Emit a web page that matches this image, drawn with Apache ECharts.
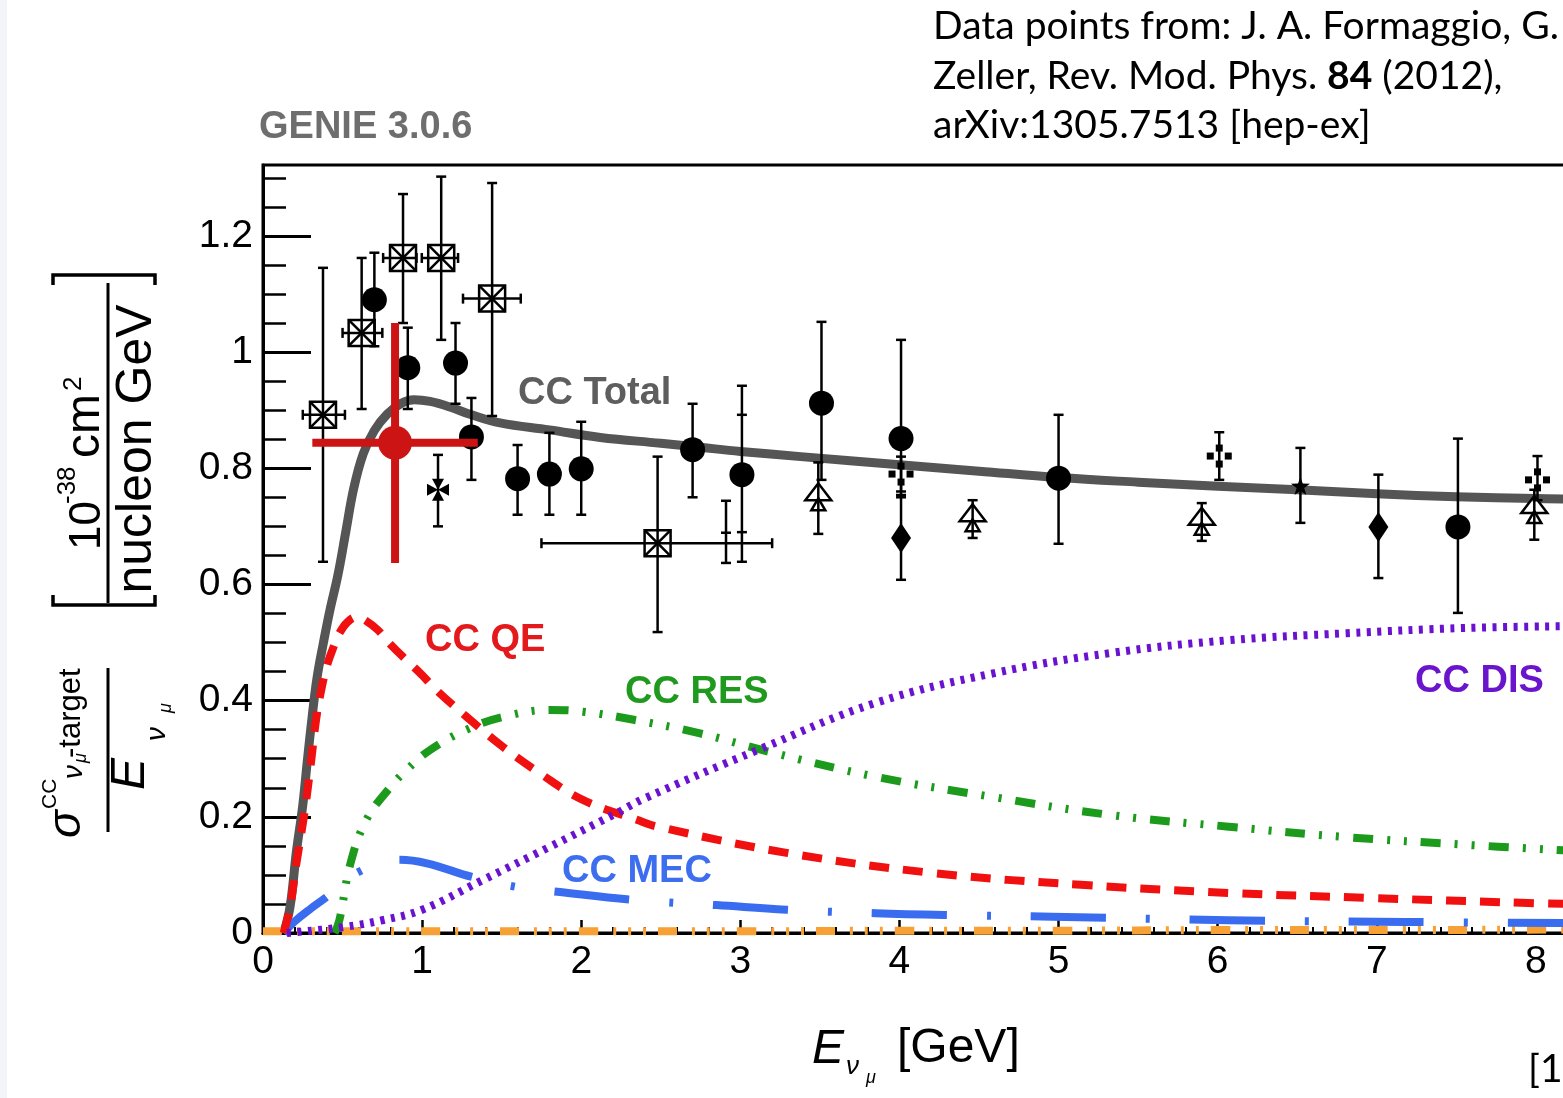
<!DOCTYPE html>
<html>
<head>
<meta charset="utf-8">
<script src="https://cdn.jsdelivr.net/npm/echarts@6/dist/echarts.min.js"></script>
<style>
html,body{margin:0;padding:0;background:#fff;}
#chart{width:1563px;height:1098px;}
</style>
</head>
<body>
<div id="chart"></div>
<script>
// GENIE 3.0.6 numu CC cross section divided by energy, split by interaction channel
const totalCurve = [[0.13,0],[0.17,0.045],[0.21,0.14],[0.25,0.22],[0.28,0.3],[0.31,0.375],[0.34,0.44],[0.38,0.5],[0.42,0.555],[0.47,0.615],[0.52,0.69],[0.57,0.765],[0.63,0.825],[0.7,0.865],[0.78,0.893],[0.87,0.912],[0.95,0.918],[1.05,0.915],[1.18,0.905],[1.3,0.893],[1.49,0.878],[1.8,0.866],[2.12,0.853],[2.5,0.843],[2.75,0.836],[3.0,0.829],[3.38,0.82],[4.0,0.806],[4.5,0.795],[5.0,0.784],[5.5,0.776],[6.0,0.769],[6.5,0.763],[7.0,0.756],[7.5,0.751],[8.0,0.748],[8.2,0.747]];
const qeCurve = [[0.13,0],[0.17,0.045],[0.21,0.12],[0.26,0.206],[0.3,0.29],[0.33,0.36],[0.36,0.41],[0.4,0.458],[0.44,0.49],[0.48,0.516],[0.53,0.535],[0.59,0.544],[0.65,0.537],[0.72,0.522],[0.8,0.497],[0.9,0.47],[1.0,0.444],[1.09,0.418],[1.28,0.372],[1.51,0.32],[1.74,0.275],[2.01,0.229],[2.35,0.195],[2.48,0.183],[3.29,0.138],[4.22,0.103],[5.14,0.083],[6.07,0.069],[6.99,0.06],[7.91,0.052],[8.2,0.05]];
const resCurve = [[0.45,0],[0.48,0.022],[0.55,0.12],[0.65,0.195],[0.8,0.251],[0.9,0.28],[1.05,0.315],[1.28,0.35],[1.51,0.372],[1.8,0.384],[2.01,0.381],[2.33,0.367],[2.74,0.344],[3.18,0.312],[3.85,0.269],[4.59,0.234],[5.33,0.203],[6.07,0.183],[6.81,0.165],[7.55,0.152],[8.2,0.142]];
const disCurve = [[0.15,0],[0.23,0.002],[0.5,0.01],[0.75,0.022],[1.0,0.04],[1.38,0.091],[1.8,0.148],[2.22,0.206],[2.4,0.232],[3.11,0.315],[3.85,0.396],[4.59,0.447],[5.33,0.482],[6.07,0.504],[6.81,0.516],[7.55,0.525],[8.2,0.528]];
const mecCurve = [[0.13,0],[0.2,0.02],[0.3,0.042],[0.4,0.062],[0.6,0.105],[0.86,0.126],[1.03,0.12],[1.32,0.096],[1.6,0.079],[1.85,0.071],[2.33,0.057],[2.85,0.048],[3.29,0.04],[3.85,0.034],[4.29,0.031],[4.96,0.028],[6.07,0.022],[7.18,0.019],[8.2,0.017]];
const otherCurve = [[0,0.003],[1,0.003],[2,0.003],[3,0.003],[4,0.004],[5,0.004],[6,0.005],[7,0.005],[8.2,0.006]];

// measurements: [E, value, low, high] or [E, value, low, high, E low, E high]
const circlePoints = [[0.70,1.09,1.01,1.171],[0.91,0.973,0.902,1.042],[1.21,0.981,0.911,1.05],[1.31,0.854,0.78,0.921],[1.60,0.782,0.72,0.84],[1.80,0.79,0.72,0.861],[2.0,0.799,0.72,0.88],[2.70,0.832,0.75,0.911],[3.01,0.789,0.639,0.942],[3.51,0.912,0.78,1.052],[4.01,0.851,0.75,1.021],[5.0,0.783,0.67,0.892],[7.51,0.699,0.551,0.851]];
const boxPoints = [[0.377,0.892,0.639,1.145,0.25,0.515],[0.62,1.033,0.902,1.162,0.5,0.75],[0.88,1.162,1.05,1.272,0.755,0.965],[1.12,1.162,1.021,1.302,0.998,1.226],[1.44,1.092,0.89,1.291,1.257,1.62],[2.48,0.671,0.518,0.82,1.75,3.2]];
const trianglePoints = [[3.49,0.75,0.687,0.81],[4.46,0.714,0.68,0.745],[5.90,0.708,0.675,0.74],[7.99,0.728,0.677,0.763]];
const diamondPoints = [[4.01,0.68,0.608,0.754],[7.01,0.699,0.611,0.789]];
const squaresPoints = [[4.01,0.79,0.76,0.82],[6.01,0.821,0.78,0.862],[8.01,0.78,0.745,0.821]];
const starPoints = [[6.52,0.768,0.706,0.835]];
const patteePoints = [[1.10,0.763,0.70,0.823]];
const tickPoints = [[2.91,0.689,0.637,0.744]];
const innerErrorPoints = [[3.01,0.69,0.892]];
const highlightPoint = [[0.83,0.844,0.637,1.05,0.31,1.35]];

const yMajorTicks = [0,0.2,0.4,0.6,0.8,1,1.2];
const yMinorTicks = [0.05,0.1,0.15,0.25,0.3,0.35,0.45,0.5,0.55,0.65,0.7,0.75,0.85,0.9,0.95,1.05,1.1,1.15,1.25,1.3];

const FONT = '"Liberation Sans", Arial, Helvetica, sans-serif';
const CITE = 'Lato, "Open Sans", sans-serif';
const BAR = {stroke:'#000', lineWidth:2.5};

function seg(x1,y1,x2,y2,style){ return {type:'line', shape:{x1,y1,x2,y2}, style}; }
function poly(points, style){ return {type:'polygon', shape:{points}, style}; }

const markers = {
  circle: (x,y) => ({back:[], front:[{type:'circle', shape:{cx:x, cy:y, r:12.5}, style:{fill:'#000'}}]}),
  box: (x,y) => ({
    back:[{type:'rect', shape:{x:x-13, y:y-13, width:26, height:26}, style:{fill:'#fff', stroke:'#000', lineWidth:2.5}}],
    front:[seg(x-13,y-13,x+13,y+13,BAR), seg(x-13,y+13,x+13,y-13,BAR)]}),
  triangle: (x,y) => ({
    back:[poly([[x,y-14],[x-13,y+3],[x+13,y+3]], {fill:'#fff', stroke:'#000', lineWidth:2.5}),
          poly([[x,y+1],[x-7,y+13],[x+7,y+13]], {fill:'#fff', stroke:'#000', lineWidth:2.5})],
    front:[]}),
  diamond: (x,y) => ({back:[], front:[poly([[x,y-15],[x+10,y],[x,y+15],[x-10,y]], {fill:'#000'})]}),
  squares: (x,y) => ({back:[], front:[[0,-8],[0,8],[-9,0],[9,0]].map(d => ({type:'rect', shape:{x:x+d[0]-3.5, y:y+d[1]-3.5, width:7, height:7}, style:{fill:'#000'}}))}),
  star: (x,y) => {
    const pts = [];
    for (let i = 0; i < 10; i++) {
      const r = i % 2 ? 4 : 10, a = -Math.PI/2 + i*Math.PI/5;
      pts.push([x + r*Math.cos(a), y + r*Math.sin(a)]);
    }
    return {back:[], front:[poly(pts, {fill:'#000'})]};
  },
  pattee: (x,y) => ({back:[], front:[
    poly([[x,y],[x-6,y-11],[x+6,y-11]], {fill:'#000'}), poly([[x,y],[x-6,y+11],[x+6,y+11]], {fill:'#000'}),
    poly([[x,y],[x-11,y-6],[x-11,y+6]], {fill:'#000'}), poly([[x,y],[x+11,y-6],[x+11,y+6]], {fill:'#000'})]}),
  tick: (x,y) => ({back:[], front:[seg(x-5,y,x+5,y,BAR)]})
};

function pointSeries(data, kind) {
  return {
    type:'custom', data, clip:false, z:10, silent:true, encode:{x:0, y:1},
    renderItem(params, api) {
      const x = api.value(0), y = api.value(1);
      const c = api.coord([x, y]);
      const lo = api.coord([x, api.value(2)]);
      const hi = api.coord([x, api.value(3)]);
      const m = markers[kind](c[0], c[1]);
      const bars = [seg(c[0], lo[1], c[0], hi[1], BAR), seg(c[0]-5, lo[1], c[0]+5, lo[1], BAR), seg(c[0]-5, hi[1], c[0]+5, hi[1], BAR)];
      const xl = api.value(4), xh = api.value(5);
      if (isFinite(xl) && isFinite(xh)) {
        const l = api.coord([xl, y]), h = api.coord([xh, y]);
        bars.push(seg(l[0], c[1], h[0], c[1], BAR), seg(l[0], c[1]-5, l[0], c[1]+5, BAR), seg(h[0], c[1]-5, h[0], c[1]+5, BAR));
      }
      return {type:'group', children: m.back.concat(bars, m.front)};
    }
  };
}

function innerCapSeries(data) {
  return {
    type:'custom', data, clip:false, z:10, silent:true, encode:{x:0, y:1},
    renderItem(params, api) {
      const a = api.coord([api.value(0), api.value(1)]);
      const b = api.coord([api.value(0), api.value(2)]);
      return {type:'group', children:[seg(a[0]-5, a[1], a[0]+5, a[1], BAR), seg(b[0]-5, b[1], b[0]+5, b[1], BAR)]};
    }
  };
}

function highlightSeries(data) {
  const RED = '#cc1414';
  const st = {stroke:RED, lineWidth:8};
  return {
    type:'custom', data, clip:false, z:12, silent:true, encode:{x:0, y:1},
    renderItem(params, api) {
      const x = api.value(0), y = api.value(1);
      const c = api.coord([x, y]);
      const lo = api.coord([x, api.value(2)]), hi = api.coord([x, api.value(3)]);
      const l = api.coord([api.value(4), y]), h = api.coord([api.value(5), y]);
      return {type:'group', children:[
        seg(c[0], lo[1], c[0], hi[1], st), seg(l[0], c[1], h[0], c[1], st),
        {type:'circle', shape:{cx:c[0], cy:c[1], r:17}, style:{fill:RED}}]};
    }
  };
}

function curve(data, color, width, dash, z, offset) {
  return {
    type:'line', data, symbol:'none', showSymbol:false, smooth:0.4, z, silent:true,
    lineStyle:{color, width, type:dash, dashOffset:offset || 0, cap:'butt', join:'round'}
  };
}

function txt(text, x, y, size, o = {}) {
  return {
    type:'text', x, y, rotation:o.rot || 0, z:100, silent:true,
    style:{text, fontSize:size, fontFamily:o.family || FONT, fontWeight:o.bold ? 'bold' : 'normal',
      fontStyle:o.italic ? 'italic' : 'normal', fill:o.color || '#000', align:o.align || 'left',
      verticalAlign:'middle', rich:o.rich}
  };
}
const V = Math.PI / 2;
function line(points, w) { return {type:'polyline', shape:{points}, z:100, silent:true, style:{stroke:'#000', lineWidth:w || 3, fill:null}}; }

const graphics = [
  {type:'rect', shape:{x:0, y:0, width:7, height:1098}, style:{fill:'#f1f4f8'}, silent:true},
  txt('GENIE 3.0.6', 259, 128, 38, {bold:true, color:'#6e6e6e'}),
  txt('CC Total', 518, 394, 38, {bold:true, color:'#5e5e5e'}),
  txt('CC QE', 425, 641, 38, {bold:true, color:'#e3191b'}),
  txt('CC RES', 625, 693, 38, {bold:true, color:'#1f9a1f'}),
  txt('CC MEC', 562, 872, 38, {bold:true, color:'#3d6ef0'}),
  txt('CC DIS', 1415, 682, 38, {bold:true, color:'#6a14cc'}),
  // citation
  txt('Data points from: J. A. Formaggio, G.', 933, 26, 39, {family:CITE}),
  {type:'text', x:933, y:76, z:100, silent:true, style:{text:'{n|Zeller, Rev. Mod. Phys. }{b|84}{n| (2012),}', verticalAlign:'middle',
    rich:{n:{fontSize:39, fontFamily:CITE, fill:'#000'}, b:{fontSize:39, fontFamily:CITE, fontWeight:'bold', fill:'#000'}}}},
  txt('arXiv:1305.7513 [hep-ex]', 933, 125, 39, {family:CITE}),
  txt('[1]', 1528, 1069, 39, {family:CITE}),
  // x title
  txt('E', 812, 1050, 48, {italic:true}),
  txt('ν', 846, 1067, 26, {italic:true}),
  txt('μ', 866, 1078, 18, {italic:true}),
  txt('[GeV]', 897, 1049, 48),
  // y title, unit block
  line([[53,285],[53,275],[155,275],[155,285]], 3.5),
  line([[53,595],[53,605],[155,605],[155,595]], 3.5),
  line([[108,283],[108,603]], 3),
  txt('10', 88, 550, 44, {rot:V}),
  txt('-38', 68, 504, 26, {rot:V}),
  txt('cm', 86, 458, 48, {rot:V}),
  txt('2', 74, 391, 26, {rot:V}),
  txt('nucleon GeV', 137, 449, 50, {rot:V, align:'center'}),
  // y title, sigma over E
  line([[108,668],[108,832]], 3),
  txt('σ', 67, 838, 46, {rot:V, italic:true}),
  txt('CC', 50, 809, 21, {rot:V}),
  txt('ν', 74, 779, 28, {rot:V, italic:true}),
  txt('μ', 81, 763, 18, {rot:V, italic:true}),
  txt('-target', 71, 758, 31, {rot:V}),
  txt('E', 131, 790, 48, {rot:V, italic:true}),
  txt('ν', 157, 741, 28, {rot:V, italic:true}),
  txt('μ', 166, 713, 18, {rot:V, italic:true})
];

const chart = echarts.init(document.getElementById('chart'), null, {renderer:'canvas'});
chart.setOption({
  animation:false,
  backgroundColor:'#fff',
  grid:{left:263, top:165, width:1432, bottom:165, show:true, borderColor:'#000', borderWidth:3,
    backgroundColor:'transparent', containLabel:false, outerBoundsMode:'none'},
  xAxis:[{
    type:'value', min:0, max:9, interval:1, position:'bottom',
    axisLine:{show:true, onZero:false, lineStyle:{color:'#000', width:3}},
    axisTick:{show:true, inside:true, length:13, lineStyle:{color:'#000', width:2.5}},
    minorTick:{show:true, splitNumber:5, length:6, lineStyle:{color:'#000', width:2}},
    axisLabel:{fontSize:39, color:'#000', margin:10, fontFamily:FONT},
    splitLine:{show:false}, minorSplitLine:{show:false}
  }],
  yAxis:[{
    type:'value', min:0, max:1.322, position:'left',
    axisLine:{show:true, onZero:false, lineStyle:{color:'#000', width:3}},
    axisTick:{show:true, inside:true, length:48, customValues:yMajorTicks, lineStyle:{color:'#000', width:3}},
    axisLabel:{fontSize:39, color:'#000', margin:10, fontFamily:FONT, customValues:yMajorTicks},
    splitLine:{show:false}
  },{
    type:'value', min:0, max:1.322, position:'left',
    axisLine:{show:false}, axisLabel:{show:false}, splitLine:{show:false},
    axisTick:{show:true, inside:true, length:23, customValues:yMinorTicks, lineStyle:{color:'#000', width:2.5}}
  }],
  graphic:graphics,
  series:[
    curve(totalCurve, '#555555', 9, 'solid', 3),
    curve(otherCurve, '#f7a035', 8, [19,15,3,12,3,12,3,12], 4),
    curve(mecCurve, '#3a6cf0', 8, [75,40,4,40], 5, 19),
    curve(qeCurve, '#f01010', 8, [20,14], 6),
    curve(resCurve, '#1c9a1c', 8, [20,14,3,14,3,14], 7),
    curve(disCurve, '#6a12d0', 8, [4,6.5], 8),
    pointSeries(boxPoints, 'box'),
    pointSeries(circlePoints, 'circle'),
    pointSeries(trianglePoints, 'triangle'),
    pointSeries(diamondPoints, 'diamond'),
    pointSeries(squaresPoints, 'squares'),
    pointSeries(starPoints, 'star'),
    pointSeries(patteePoints, 'pattee'),
    pointSeries(tickPoints, 'tick'),
    innerCapSeries(innerErrorPoints),
    highlightSeries(highlightPoint)
  ]
});
</script>
</body>
</html>
